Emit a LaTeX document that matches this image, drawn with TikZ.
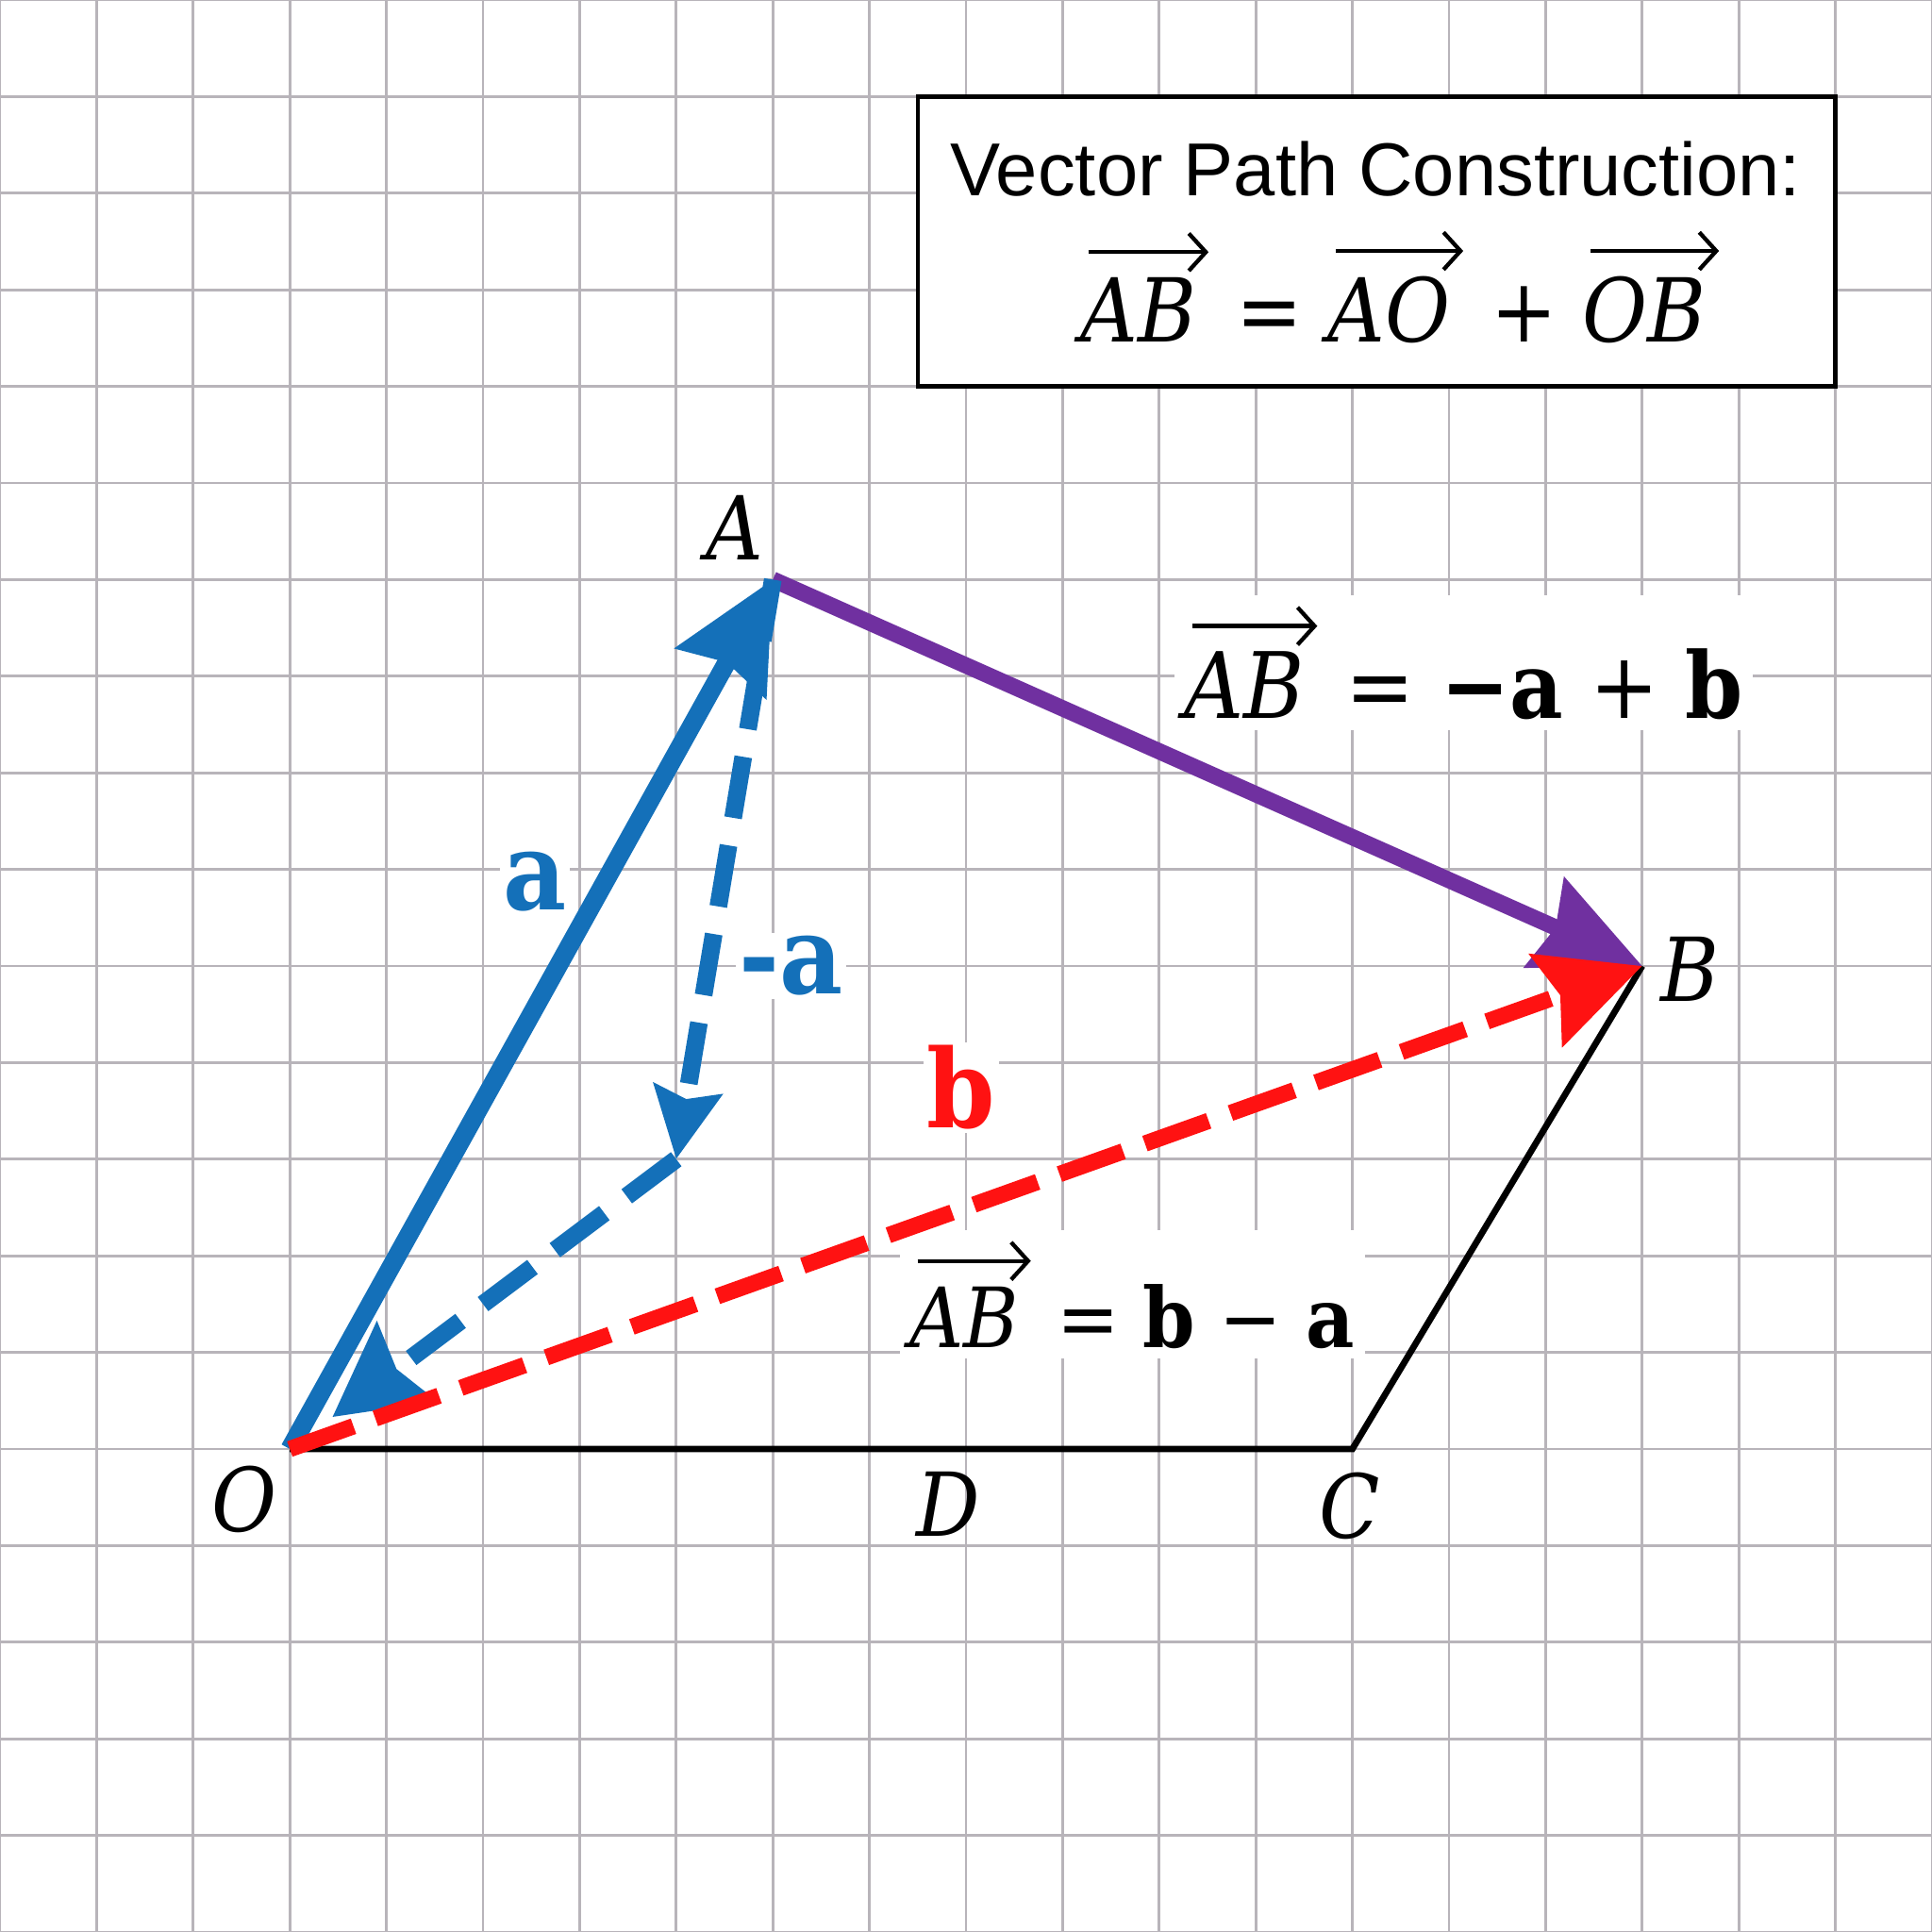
\RequirePackage{fix-cm}
\documentclass[tikz,border=0pt]{standalone}
\usepackage{fontspec}
\setsansfont{Liberation Sans}
\newfontfamily\labfont{DejaVu Serif}[FakeStretch=0.9]
\usetikzlibrary{arrows.meta}
\definecolor{vblue}{RGB}{20,112,185}
\definecolor{vpurple}{RGB}{112,48,160}
\definecolor{vred}{RGB}{255,18,18}
\definecolor{gridc}{RGB}{184,180,186}
\newsavebox\vvbox
\newlength\vvlen
\newcommand{\vv}[1]{\sbox\vvbox{\itshape #1}\setlength\vvlen{\wd\vvbox}%
  \vbox{\offinterlineskip\hbox{\kern0.05\vvlen\tikz\draw[line width=1.2pt,-{Straight Barb[length=5pt,width=11pt,line width=1.2pt]}] (0,0)--(1.04\vvlen,0);}\kern1.5pt\copy\vvbox}}
\tikzset{
  ptlab/.style={font=\labfont\fontsize{26}{30}\selectfont\itshape, inner sep=1pt},
  veclab/.style={font=\labfont\fontsize{32}{36}\selectfont\bfseries, fill=white, inner sep=1pt},
  eqlab/.style={fill=white, inner sep=3pt},
  solidvec/.style={line width=5.5pt},
  dashvec/.style={line width=5.2pt, dash pattern=on 0.64cm off 0.29cm},
  bighead/.style={-{Stealth[length=11mm,width=10.5mm,inset=1.2mm]}},
}
\begin{document}
\begin{tikzpicture}[x=1cm,y=1cm]
\useasboundingbox (0,0) rectangle (20,20);
\fill[white] (0,0) rectangle (20,20);
\draw[gridc, line width=0.75pt] (0,0) grid (20,20);

% points
\coordinate (O) at (3,5);
\coordinate (A) at (8,14);
\coordinate (B) at (17,10);
\coordinate (C) at (14,5);
\coordinate (P) at (7,8);

% info box
\node[draw, line width=1.2pt, fill=white, minimum width=9.5cm, minimum height=3cm, inner sep=0pt] (box) at (14.25,17.5) {};
\node[font=\sffamily\fontsize{22.1}{26}\selectfont] (title) at (14.24,18.25) {Vector Path Construction:};
\node[font=\labfont\fontsize{26}{30}\selectfont] (eq) at (14.5,17.03) {\vv{AB} = \vv{AO} + \vv{OB}};

% black outline
\draw[line width=1.9pt, line join=miter] (O) -- (C) -- (B);

% labels
\node[ptlab] (Olab) at (2.53,4.48) {O};
\node[ptlab] (Alab) at (7.61,14.54) {A};
\node[ptlab] (Blab) at (17.49,9.97) {B};
\node[ptlab] (Clab) at (13.97,4.41) {C};
\node[ptlab] (Dlab) at (9.82,4.43) {D};
\node[veclab, text=vblue] (alab) at (5.54,10.87) {a};
\node[veclab, text=vblue] (malab) at (8.19,10.0) {-a};
\node[veclab, text=vred] (blab) at (9.95,8.74) {b};
\node[eqlab, font=\labfont\fontsize{27}{31}\selectfont] (eq1) at (15.15,13.14) {\vv{AB} = \textbf{−a} + \textbf{b}};
\node[eqlab, font=\labfont\fontsize{24.5}{28}\selectfont] (eq2) at (11.72,6.6) {\vv{AB} = \textbf{b} − \textbf{a}};

% vectors
\draw[vblue, solidvec, bighead] (O) -- (A);
\draw[vpurple, line width=4.8pt, -{Stealth[length=11mm,width=10mm,inset=1.2mm]}] (A) -- (B);
\draw[vblue, dashvec, -{Stealth[length=7.3mm,width=7mm,inset=1mm]}] (A) -- (P);
\draw[vblue, dashvec, shorten >=0.55cm, -{Stealth[length=9.5mm,width=10mm,inset=1.2mm]}] (P) -- (O);
\draw[vred, line width=4.8pt, dash pattern=on 0.7cm off 0.24cm, -{Stealth[length=10.5mm,width=10mm,inset=1.5mm]}] (O) -- (B);
\end{tikzpicture}
\end{document}
